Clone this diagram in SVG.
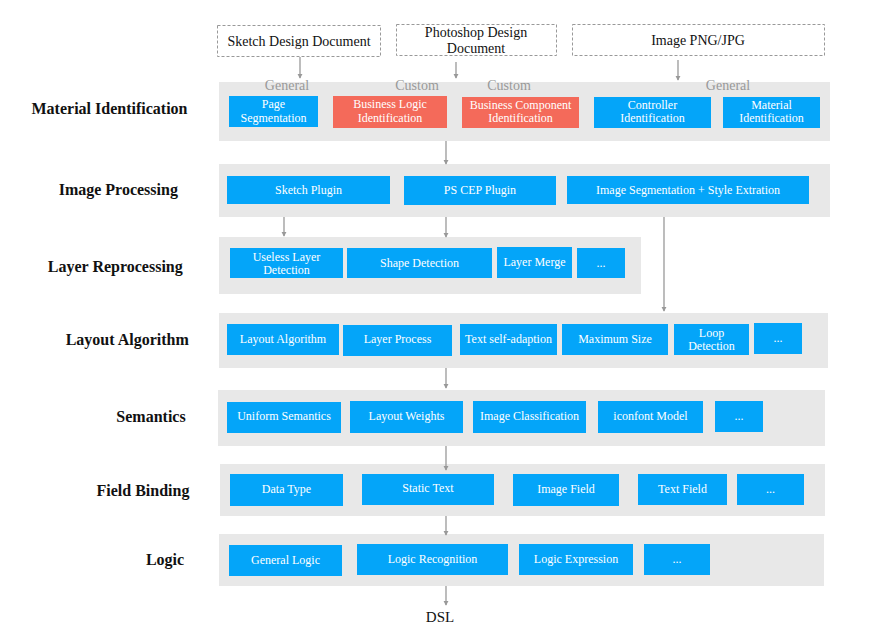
<svg xmlns="http://www.w3.org/2000/svg" width="869" height="638" viewBox="0 0 869 638">
<style>
.band{fill:#e8e8e8}
.b{fill:#04a5f9}
.r{fill:#f46a5a}
.doc{fill:#fff;stroke:#999;stroke-width:1;stroke-dasharray:3,2}
.t{font-family:"Liberation Serif","Times New Roman",serif;font-size:12px;fill:#fff;text-anchor:middle}
.dt{font-family:"Liberation Serif","Times New Roman",serif;font-size:14px;fill:#111;text-anchor:middle}
.g{font-family:"Liberation Serif","Times New Roman",serif;font-size:14px;fill:#999;text-anchor:middle}
.lab{font-family:"Liberation Serif","Times New Roman",serif;font-size:16px;font-weight:bold;fill:#111;text-anchor:middle}
.c line{stroke:#999;stroke-width:1.3;marker-end:url(#ah)}
</style>
<defs>
<marker id="ah" viewBox="0 0 6 6" refX="5" refY="3" markerWidth="4" markerHeight="4" orient="auto" markerUnits="strokeWidth">
<path d="M0,0 L6,3 L0,6 z" fill="#999"/>
</marker>
</defs>
<rect width="869" height="638" fill="#fff"/>

<g id="labels">
<text class="lab" x="109.5" y="114">Material Identification</text>
<text class="lab" x="118.3" y="195">Image Processing</text>
<text class="lab" x="115.3" y="272">Layer Reprocessing</text>
<text class="lab" x="127.2" y="345">Layout Algorithm</text>
<text class="lab" x="151" y="422">Semantics</text>
<text class="lab" x="143" y="496">Field Binding</text>
<text class="lab" x="165" y="565">Logic</text>
</g>

<g id="bands">
<rect class="band" x="219" y="82" width="611" height="59"/>
<rect class="band" x="219" y="164" width="611" height="53"/>
<rect class="band" x="219" y="237" width="422" height="57"/>
<rect class="band" x="219" y="313" width="609" height="55"/>
<rect class="band" x="218" y="390" width="607" height="56"/>
<rect class="band" x="220" y="464" width="605" height="52"/>
<rect class="band" x="219" y="534" width="605" height="52"/>
</g>

<g id="doc-sketch"><rect class="doc" x="217.5" y="25.5" width="163" height="31"/><text class="dt" x="299" y="46">Sketch Design Document</text></g>
<g id="doc-ps"><rect class="doc" x="396.5" y="24.5" width="160" height="31"/><text class="dt" x="476" y="37">Photoshop Design</text><text class="dt" x="476" y="53">Document</text></g>
<g id="doc-img"><rect class="doc" x="572.5" y="24.5" width="252" height="31"/><text class="dt" x="698" y="45">Image PNG/JPG</text></g>

<g id="tags">
<text class="g" x="287" y="90">General</text>
<text class="g" x="417" y="90">Custom</text>
<text class="g" x="509" y="90">Custom</text>
<text class="g" x="728" y="90">General</text>
</g>

<g id="n-page"><rect class="b" x="229" y="96" width="89" height="31"/><text class="t" x="273.5" y="108">Page</text><text class="t" x="273.5" y="122">Segmentation</text></g>
<g id="n-bizlogic"><rect class="r" x="333" y="96" width="114" height="32"/><text class="t" x="390" y="108">Business Logic</text><text class="t" x="390" y="122">Identification</text></g>
<g id="n-bizcomp"><rect class="r" x="462" y="97" width="117" height="31"/><text class="t" x="520.5" y="109">Business Component</text><text class="t" x="520.5" y="122">Identification</text></g>
<g id="n-controller"><rect class="b" x="594" y="97" width="117" height="31"/><text class="t" x="652.5" y="109">Controller</text><text class="t" x="652.5" y="122">Identification</text></g>
<g id="n-material"><rect class="b" x="723" y="97" width="97" height="31"/><text class="t" x="771.5" y="109">Material</text><text class="t" x="771.5" y="122">Identification</text></g>

<g id="n-sketchplugin"><rect class="b" x="227" y="176" width="163" height="28"/><text class="t" x="308.5" y="194">Sketch Plugin</text></g>
<g id="n-pscep"><rect class="b" x="404" y="176" width="152" height="29"/><text class="t" x="480" y="194">PS CEP Plugin</text></g>
<g id="n-imgseg"><rect class="b" x="567" y="176" width="242" height="28"/><text class="t" x="688" y="194">Image Segmentation + Style Extration</text></g>

<g id="n-useless"><rect class="b" x="230" y="248" width="113" height="30"/><text class="t" x="286.5" y="261">Useless Layer</text><text class="t" x="286.5" y="274">Detection</text></g>
<g id="n-shape"><rect class="b" x="347" y="248" width="145" height="30"/><text class="t" x="419.5" y="267">Shape Detection</text></g>
<g id="n-merge"><rect class="b" x="497" y="247" width="75" height="31"/><text class="t" x="534.5" y="266">Layer Merge</text></g>
<g id="n-layer-more"><rect class="b" x="577" y="248" width="48" height="30"/><text class="t" x="601" y="267">...</text></g>

<g id="n-layoutalg"><rect class="b" x="227" y="324" width="112" height="31"/><text class="t" x="283" y="343">Layout Algorithm</text></g>
<g id="n-layerproc"><rect class="b" x="343" y="325" width="109" height="31"/><text class="t" x="397.5" y="343">Layer Process</text></g>
<g id="n-textself"><rect class="b" x="460" y="324" width="97" height="31"/><text class="t" x="508.5" y="343">Text self-adaption</text></g>
<g id="n-maxsize"><rect class="b" x="562" y="324" width="106" height="31"/><text class="t" x="615" y="343">Maximum Size</text></g>
<g id="n-loop"><rect class="b" x="674" y="324" width="75" height="31"/><text class="t" x="711.5" y="337">Loop</text><text class="t" x="711.5" y="350">Detection</text></g>
<g id="n-layout-more"><rect class="b" x="754" y="323" width="48" height="31"/><text class="t" x="778" y="342">...</text></g>

<g id="n-uniform"><rect class="b" x="227" y="402" width="114" height="31"/><text class="t" x="284" y="420">Uniform Semantics</text></g>
<g id="n-weights"><rect class="b" x="350" y="401" width="113" height="32"/><text class="t" x="406.5" y="420">Layout Weights</text></g>
<g id="n-imgclass"><rect class="b" x="473" y="401" width="113" height="32"/><text class="t" x="529.5" y="420">Image Classification</text></g>
<g id="n-iconfont"><rect class="b" x="598" y="401" width="105" height="32"/><text class="t" x="650.5" y="420">iconfont Model</text></g>
<g id="n-sem-more"><rect class="b" x="715" y="401" width="48" height="31"/><text class="t" x="739" y="420">...</text></g>

<g id="n-datatype"><rect class="b" x="230" y="474" width="113" height="32"/><text class="t" x="286.5" y="493">Data Type</text></g>
<g id="n-static"><rect class="b" x="362" y="474" width="132" height="31"/><text class="t" x="428" y="492">Static Text</text></g>
<g id="n-imgfield"><rect class="b" x="513" y="474" width="106" height="32"/><text class="t" x="566" y="493">Image Field</text></g>
<g id="n-textfield"><rect class="b" x="638" y="474" width="89" height="31"/><text class="t" x="682.5" y="493">Text Field</text></g>
<g id="n-field-more"><rect class="b" x="737" y="474" width="67" height="31"/><text class="t" x="770.5" y="493">...</text></g>

<g id="n-genlogic"><rect class="b" x="229" y="545" width="113" height="31"/><text class="t" x="285.5" y="564">General Logic</text></g>
<g id="n-logicrec"><rect class="b" x="357" y="544" width="151" height="31"/><text class="t" x="432.5" y="563">Logic Recognition</text></g>
<g id="n-logicexp"><rect class="b" x="519" y="544" width="114" height="31"/><text class="t" x="576" y="563">Logic Expression</text></g>
<g id="n-logic-more"><rect class="b" x="644" y="544" width="66" height="31"/><text class="t" x="677" y="563">...</text></g>

<g id="dsl"><text class="dt" x="440" y="622" style="font-size:15px">DSL</text></g>

<g class="c" id="connectors">
<line x1="300" y1="57" x2="300" y2="78"/>
<line x1="456" y1="62" x2="456" y2="78"/>
<line x1="678" y1="60" x2="678" y2="80"/>
<line x1="446" y1="141" x2="446" y2="164"/>
<line x1="284" y1="217" x2="284" y2="236"/>
<line x1="446" y1="217" x2="446" y2="237"/>
<line x1="664" y1="217" x2="664" y2="311"/>
<line x1="446" y1="368" x2="446" y2="388"/>
<line x1="446" y1="446" x2="446" y2="470"/>
<line x1="446" y1="516" x2="446" y2="535"/>
<line x1="446" y1="586" x2="446" y2="605"/>
</g>
</svg>
